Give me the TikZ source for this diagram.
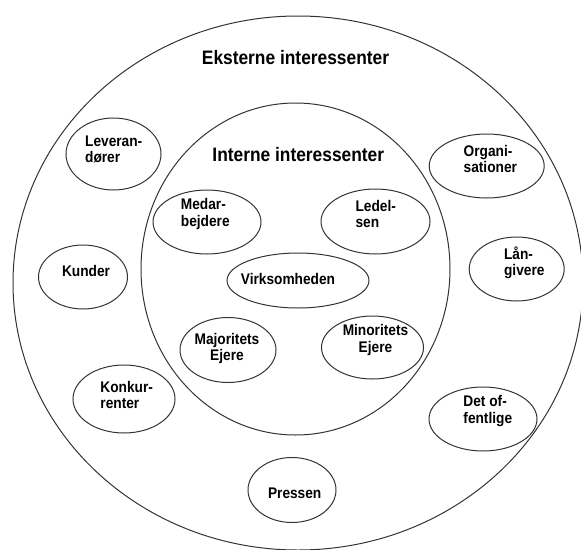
\documentclass[tikz,border=0pt]{standalone}
\usepackage{fontspec}
\setmainfont{Liberation Sans}[FakeStretch=0.89]
\usepackage{tikz}
\usetikzlibrary{shapes.geometric}

\begin{document}
\begin{tikzpicture}[x=1pt,y=-1pt]
\tikzstyle{blob} = [draw=black!80, line width=1pt, ellipse, inner sep=0pt]
\tikzstyle{navn} = [font=\bfseries\fontsize{15.4}{16.3}\selectfont, align=left, inner sep=0pt]
\tikzstyle{titel} = [font=\bfseries\fontsize{19.5}{22}\selectfont, inner sep=0pt]
%
\useasboundingbox (0,0) rectangle (581,549);

	% de to store cirkler
	\node[blob, minimum width=570, minimum height=534] (ekstern) at (298,283) {};
	\node[blob, minimum width=309, minimum height=332] (intern) at (295.5,269) {};
	\node[titel] (ekstern-t) at (295.5,58) {Eksterne interessenter};
	\node[titel] (intern-t) at (298.3,154.2) {Interne interessenter};

	% interne
	\node[blob, minimum width=108, minimum height=64] (medarb) at (207,222) {};
	\node[navn] (medarb-t) at (205.3,214) {Medar-\\bejdere};
	\node[blob, minimum width=109, minimum height=65] (ledelse) at (375.5,221.5) {};
	\node[navn] (ledelse-t) at (375.8,214) {Ledel-\\sen};
	\node[blob, minimum width=142, minimum height=55] (virk) at (298,280.5) {};
	\node[navn] (virk-t) at (288,279) {Virksomheden};
	\node[blob, minimum width=96, minimum height=65] (major) at (228,350) {};
	\node[navn, align=center] (major-t) at (227,348.5) {Majoritets\\Ejere};
	\node[blob, minimum width=102, minimum height=63] (minor) at (372.5,347.5) {};
	\node[navn, align=center] (minor-t) at (375.5,340) {Minoritets\\Ejere};

	% eksterne
	\node[blob, minimum width=95, minimum height=72] (lev) at (113.5,154) {};
	\node[navn] (lev-t) at (113.7,149.7) {Leveran-\\dører};
	\node[blob, minimum width=89, minimum height=64] (kunder) at (83,277) {};
	\node[navn] (kunder-t) at (86,271) {Kunder};
	\node[blob, minimum width=102, minimum height=68] (konk) at (124,399) {};
	\node[navn] (konk-t) at (126.7,394.7) {Konkur-\\renter};
	\node[blob, minimum width=88, minimum height=65] (presse) at (292,490) {};
	\node[navn] (presse-t) at (294.7,492.8) {Pressen};
	\node[blob, minimum width=115, minimum height=64] (org) at (486.7,166) {};
	\node[navn] (org-t) at (490.3,159.3) {Organi-\\sationer};
	\node[blob, minimum width=95, minimum height=64] (laan) at (516.7,269) {};
	\node[navn] (laan-t) at (524.3,263) {Lån-\\givere};
	\node[blob, minimum width=108, minimum height=64] (off) at (483,419) {};
	\node[navn] (off-t) at (487.8,411) {Det of-\\fentlige};
\end{tikzpicture}
\end{document}
